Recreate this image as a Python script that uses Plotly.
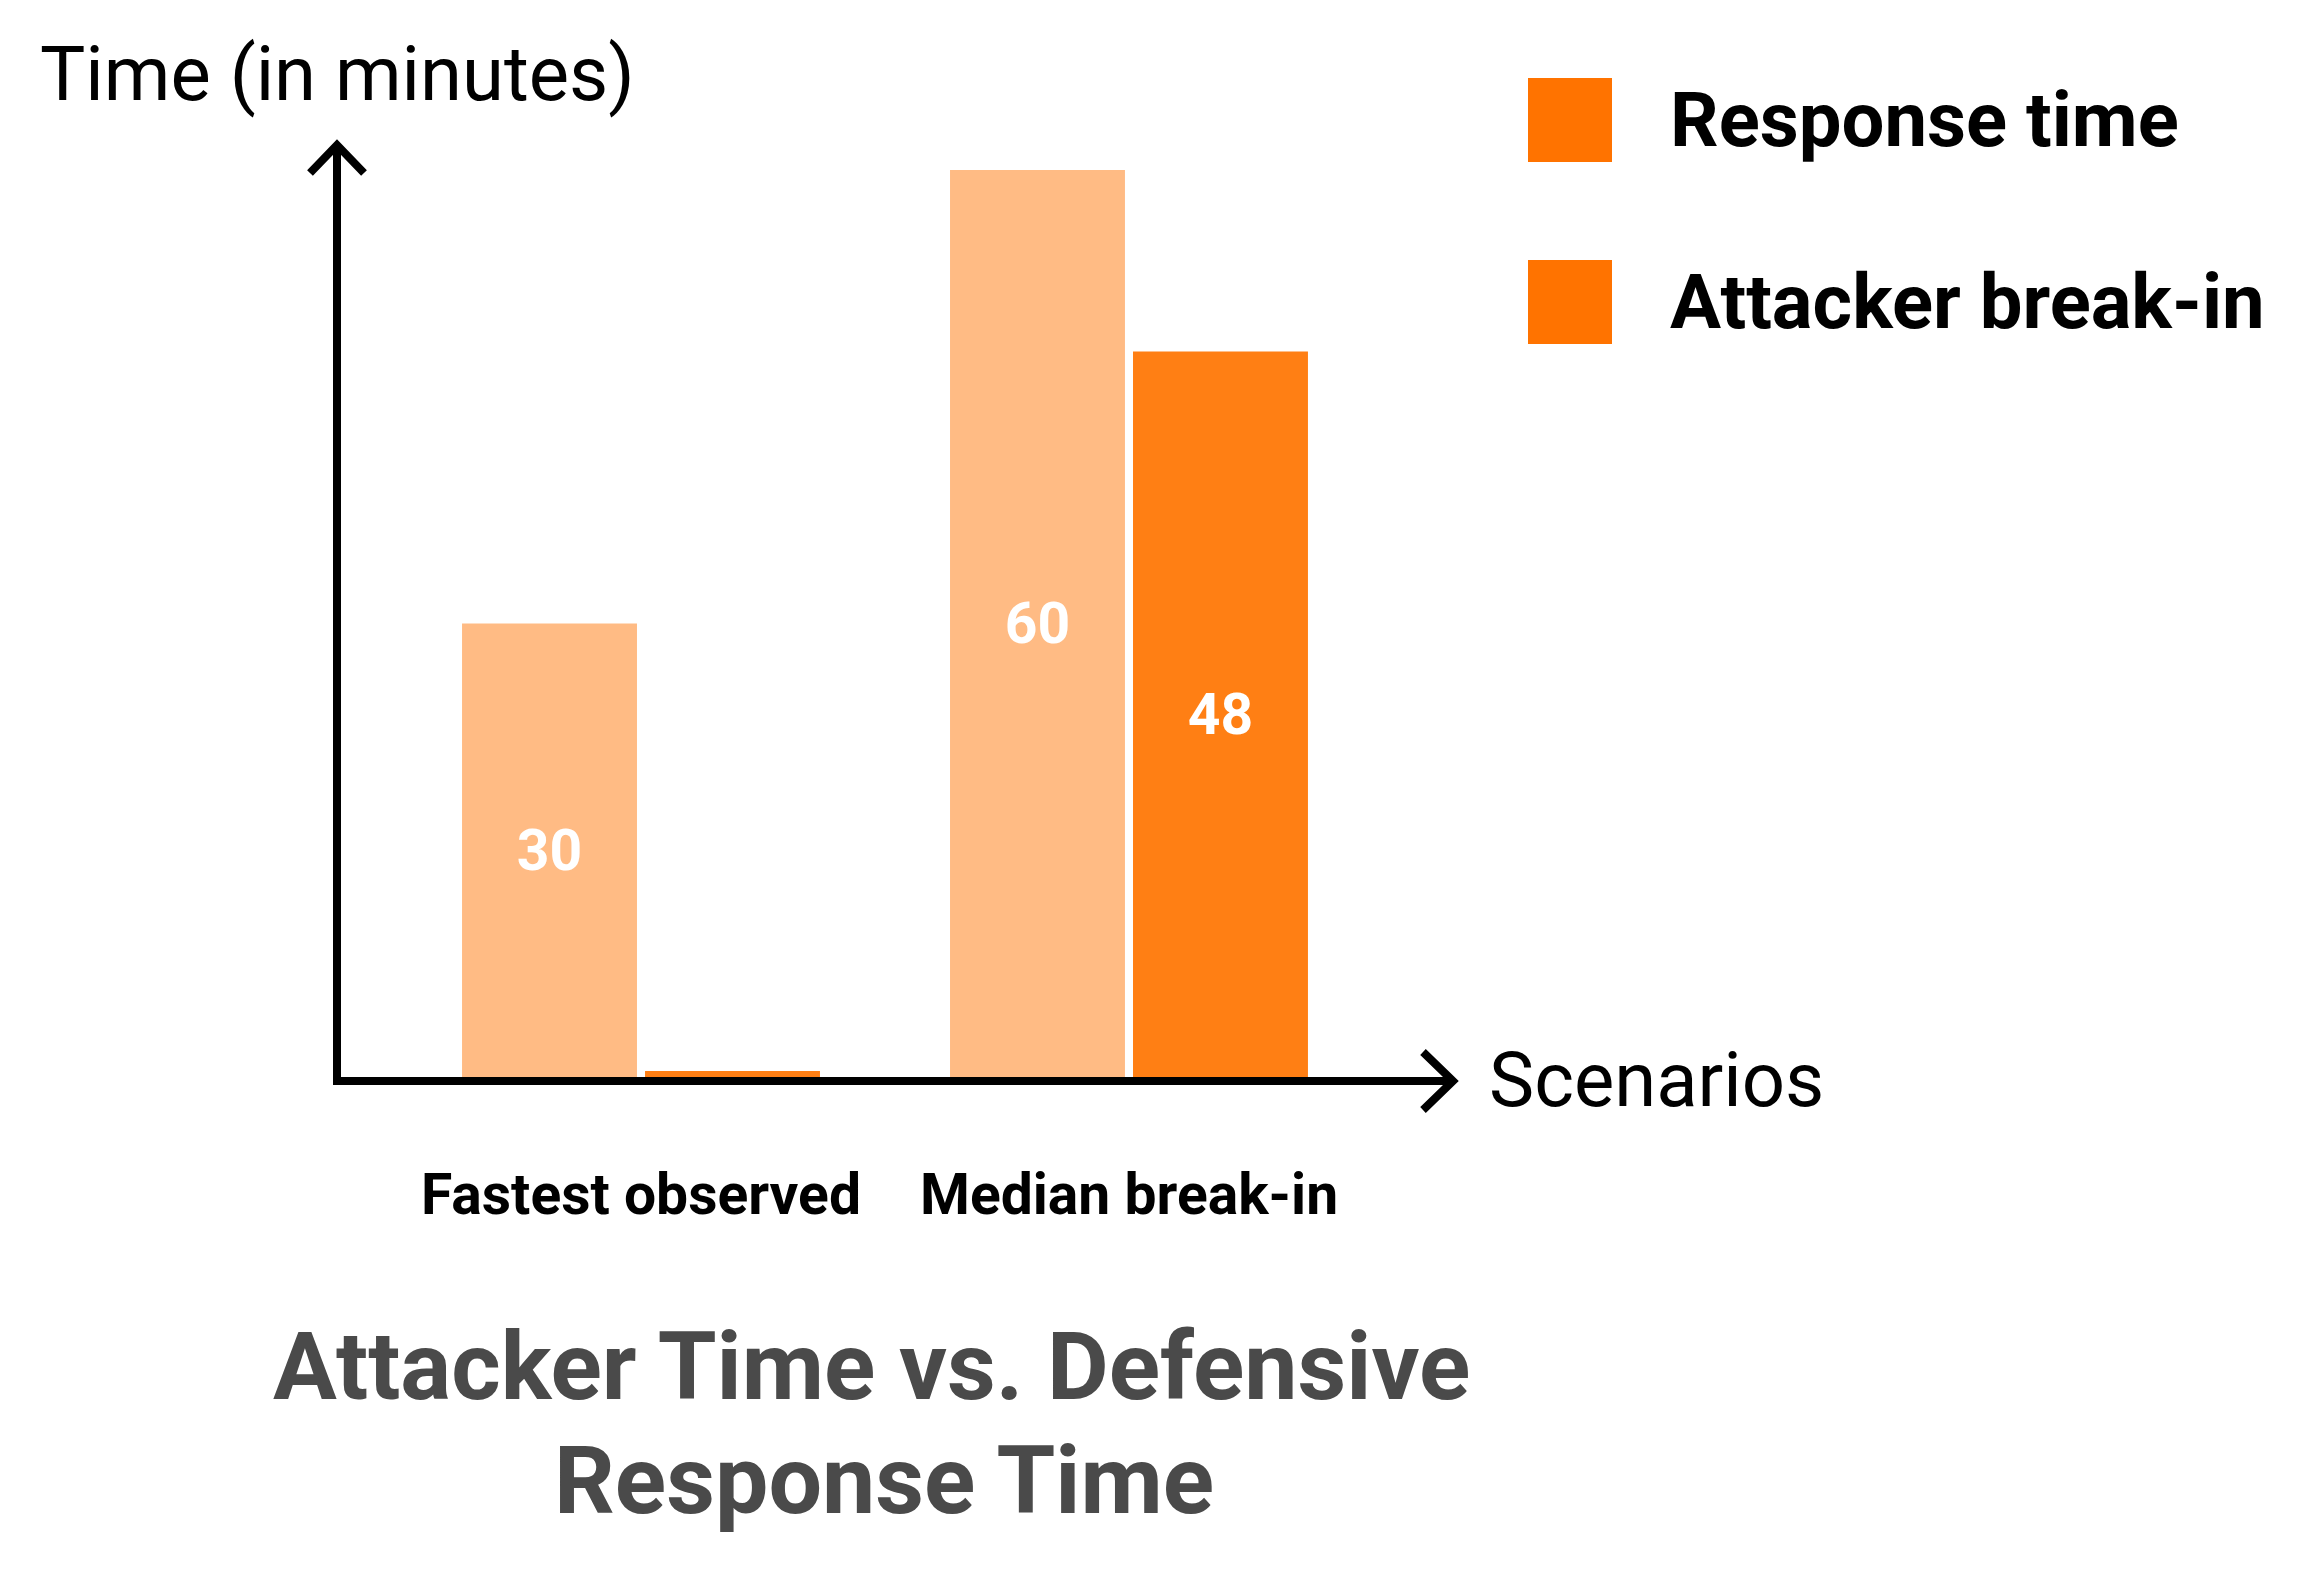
import plotly.graph_objects as go

# data
scenarios = ["Fastest observed", "Median break-in"]
response_time = [30, 60]
attacker_break_in = [0.4, 48]

series_names = ["Response time", "Attacker break-in"]
bar_colors = ["#FFBB84", "#FF7F14"]
swatch_color = "#FF7300"

W, H = 2300, 1572
OFF = 8  # the page body has an 8px margin, so shift everything back


def px(x):
    return (x - OFF) / W


def py(y):
    return 1 - (y - OFF) / H


fig = go.Figure()

for name, vals, col in zip(series_names, [response_time, attacker_break_in], bar_colors):
    fig.add_trace(go.Bar(
        x=scenarios,
        y=vals,
        name=name,
        marker=dict(color=col, line=dict(width=0)),
        text=[str(v) for v in vals],
        textposition="inside",
        insidetextanchor="middle",
        textfont=dict(family="Roboto", size=57, color="white", weight="bold"),
        hoverinfo="x+y+name",
    ))

axis_col = "black"
shapes = [
    # y axis + arrow
    dict(type="line", xref="paper", yref="paper",
         x0=px(337), y0=py(1085), x1=px(337), y1=py(147),
         line=dict(color=axis_col, width=8)),
    dict(type="path", xref="paper", yref="paper",
         path="M %f,%f L %f,%f L %f,%f" % (px(310), py(173), px(337), py(145), px(364), py(173)),
         line=dict(color=axis_col, width=8)),
    # x axis + arrow
    dict(type="line", xref="paper", yref="paper",
         x0=px(333), y0=py(1081), x1=px(1450), y1=py(1081),
         line=dict(color=axis_col, width=8)),
    dict(type="path", xref="paper", yref="paper",
         path="M %f,%f L %f,%f L %f,%f" % (px(1423), py(1052), px(1453), py(1081), px(1423), py(1110)),
         line=dict(color=axis_col, width=8)),
]

annotations = [
    dict(text="Time (in minutes)", xref="paper", yref="paper",
         x=px(38), y=py(74), xanchor="left", yanchor="middle", showarrow=False,
         font=dict(family="Roboto", size=76, color="black")),
    dict(text="Scenarios", xref="paper", yref="paper",
         x=px(1487), y=py(1080), xanchor="left", yanchor="middle", showarrow=False,
         font=dict(family="Roboto", size=76, color="black")),
    dict(text="Attacker Time vs. Defensive", xref="paper", yref="paper",
         x=px(872), y=py(1366), xanchor="center", yanchor="middle", showarrow=False,
         font=dict(family="Roboto", size=95, color="#4A4A4A", weight="bold")),
    dict(text="Response Time", xref="paper", yref="paper",
         x=px(884), y=py(1480), xanchor="center", yanchor="middle", showarrow=False,
         font=dict(family="Roboto", size=95, color="#4A4A4A", weight="bold")),
]

# category labels under the groups
for s in scenarios:
    annotations.append(dict(
        text=s, xref="x", yref="paper", x=s, y=py(1194),
        xanchor="center", yanchor="middle", showarrow=False,
        font=dict(family="Roboto", size=57, color="black", weight="bold"),
    ))

# legend drawn by hand (big square swatches)
legend_y = [120, 302]
for name, yc in zip(series_names, legend_y):
    shapes.append(dict(type="rect", xref="paper", yref="paper",
                       x0=px(1528), x1=px(1612), y0=py(yc - 42), y1=py(yc + 42),
                       fillcolor=swatch_color, line=dict(width=0)))
    annotations.append(dict(
        text=name, xref="paper", yref="paper", x=px(1668), y=py(yc),
        xanchor="left", yanchor="middle", showarrow=False,
        font=dict(family="Roboto", size=76, color="black", weight="bold"),
    ))

fig.update_layout(
    width=W,
    height=H,
    margin=dict(l=0, r=0, t=0, b=0),
    paper_bgcolor="white",
    plot_bgcolor="white",
    barmode="group",
    bargap=0.25,
    bargroupgap=0.044,
    showlegend=False,
    uniformtext=dict(minsize=50, mode="hide"),
    xaxis=dict(domain=[px(337), px(1453)], range=[-0.623, 1.664],
               showticklabels=False, showgrid=False, zeroline=False, showline=False),
    yaxis=dict(domain=[py(1077), py(170)], range=[0, 60],
               showticklabels=False, showgrid=False, zeroline=False, showline=False),
    shapes=shapes,
    annotations=annotations,
)

fig.write_html("out.html")
